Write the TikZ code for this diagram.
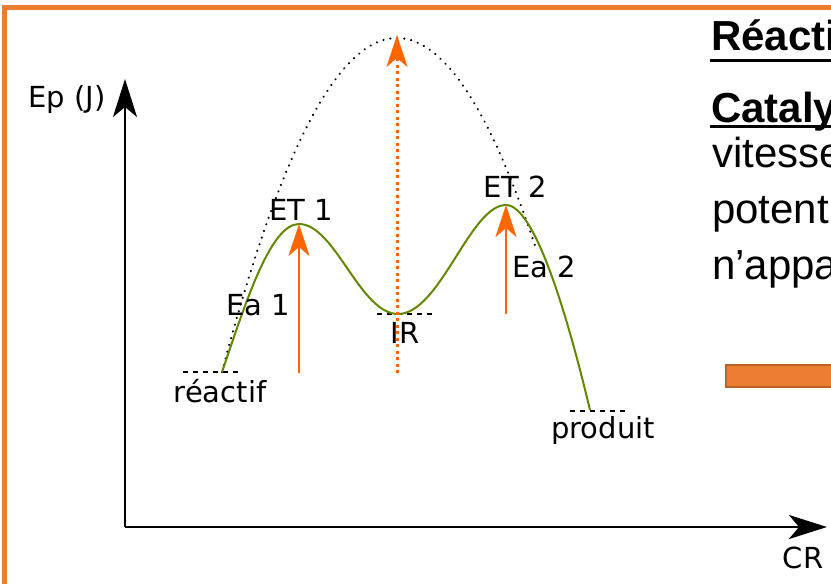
\documentclass[tikz,border=0pt]{standalone}
\usepackage{fontspec}
\setmainfont{DejaVu Sans}
\newfontfamily\slidefont{Liberation Sans}
\usetikzlibrary{arrows.meta}
\definecolor{frameorange}{HTML}{ED7D31}
\definecolor{bardraw}{HTML}{B9652A}
\definecolor{eaorange}{HTML}{FF6600}
\definecolor{pathgreen}{RGB}{100,135,0}
\begin{document}
\begin{tikzpicture}[x=1pt,y=-1pt,
  lbl/.style={font=\fontsize{29}{34}\selectfont, inner sep=0pt, anchor=base},
  slidetxt/.style={font=\slidefont\fontsize{42}{50}\selectfont, inner sep=0pt, anchor=base west},
  slidehead/.style={font=\slidefont\bfseries\fontsize{42}{50}\selectfont, inner sep=0pt, anchor=base west},
  level/.style={line width=2pt, dash pattern=on 5pt off 5pt},
  axis/.style={line width=2.4pt, -{Stealth[length=38pt,width=24pt,inset=10pt]}},
  eaarrow/.style={eaorange, line width=2.8pt, -{Stealth[length=32pt,width=21pt,inset=9pt]}},
  uncatalysed/.style={line width=2.4pt, line cap=round, dash pattern=on 0.01pt off 7pt},
  profile/.style={pathgreen, line width=2pt}
]
\useasboundingbox (0,0) rectangle (831,584);
\begin{scope}
\clip (0,0) rectangle (831,584);

% slide frame
\draw[frameorange, line width=5pt] (4.8,700) -- (4.8,7.5) -- (900,7.5);

% key points of the energy profile
\coordinate (react) at (222,372);
\coordinate (et1) at (299,224);
\coordinate (ir) at (398,314);
\coordinate (et2) at (506,205);
\coordinate (prod) at (590,410);
\coordinate (ea1base) at (299,373);
\coordinate (ea2base) at (506,314);
\coordinate (irbase) at (397,373);
\coordinate (ircap) at (397,35);

% axes
\coordinate (origin) at (125,527);
\coordinate (ytop) at (125,79);
\coordinate (xend) at (827,527);
\draw[axis] (origin) -- (ytop);
\draw[axis] (origin) -- (xend);
\node[lbl] (ep) at (67,107) {Ep (J)};
\node[lbl] (cr) at (803,568) {CR};

% path without catalyst
\draw[uncatalysed] plot[domain=222:536, samples=80] (\x, {38+334*((\x-397)/175)^2});

% energy levels
\draw[level] (183,372) -- (242,372);
\draw[level] (377,314) -- (436,314);
\draw[level] (570,411) -- (629,411);

% catalysed path
\draw[profile] (react) .. controls (245,305) and (270,224) .. (et1)
  .. controls (335,224) and (360,314) .. (ir)
  .. controls (440,314) and (470,205) .. (et2)
  .. controls (535,205) and (568,318) .. (prod);

% activation energies
\draw[eaarrow] (ea1base) -- (et1);
\draw[eaarrow] (ea2base) -- (et2);
\draw[eaarrow, line width=3pt, dash pattern=on 3pt off 3.5pt] (irbase) -- (ircap);

% labels
\node[lbl] (lreact) at (220,402) {réactif};
\node[lbl] (lprod) at (603,438) {produit};
\node[lbl] (lir) at (405,343) {IR};
\node[lbl] (let1) at (301,220) {ET 1};
\node[lbl] (let2) at (515,197) {ET 2};
\node[lbl] (lea1) at (258.5,315) {Ea 1};
\node[lbl] (lea2) at (544.5,277) {Ea 2};

% slide text
\node[slidehead] (h1) at (711,50) {Réacti};
\fill (710,59) rectangle (840,62);
\node[slidehead] (h2) at (711,122) {Cataly};
\fill (710,124.5) rectangle (840,128);
\node[slidetxt] (t1) at (712,167) {vitesse};
\node[slidetxt] (t2) at (712,223) {potent};
\node[slidetxt] (t3) at (712,279) {n’appa};

% orange bar
\draw[draw=bardraw, fill=frameorange, line width=2pt] (726,365) rectangle (860,387);
\end{scope}
\end{tikzpicture}
\end{document}
